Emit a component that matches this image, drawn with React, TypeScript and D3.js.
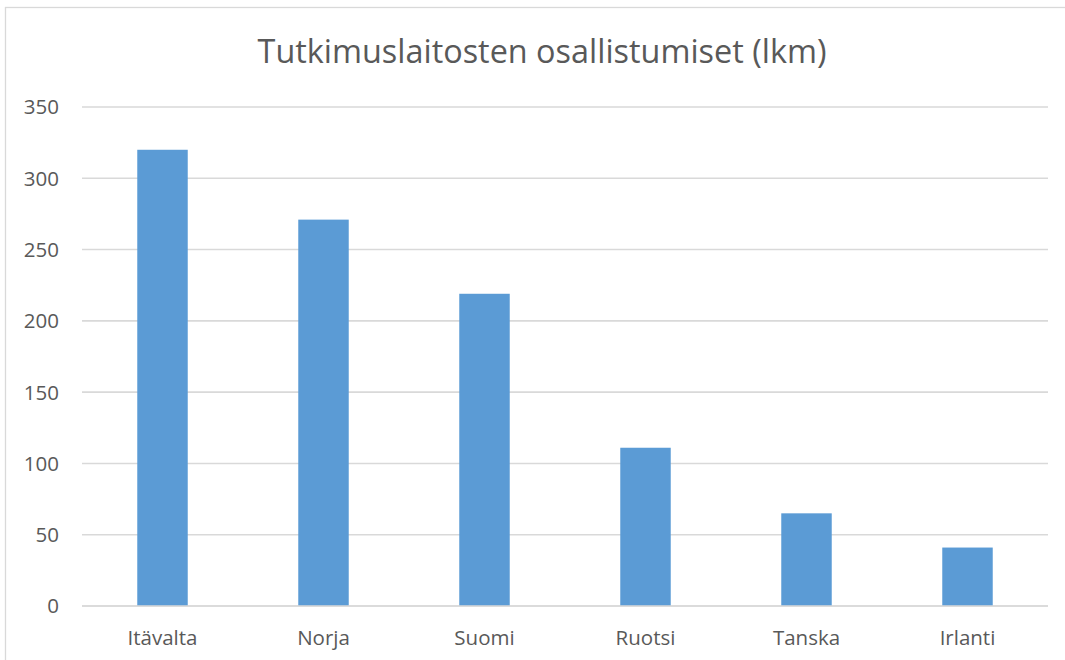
import React from "react";
import * as d3 from "d3";

const categories = ["Itävalta", "Norja", "Suomi", "Ruotsi", "Tanska", "Irlanti"];
const values = [320, 271, 219, 111, 65, 41];
const yTicks = [0, 50, 100, 150, 200, 250, 300, 350];
const title = "Tutkimuslaitosten osallistumiset (lkm)";

const W = 1065;
const H = 660;
const FONT = "'Open Sans', 'Liberation Sans', sans-serif";
const TEXT = "#595959";
const GRID = "#D9D9D9";
const BAR = "#5B9BD5";

export default function App() {
  const x = d3.scaleBand<string>().domain(categories).range([82, 1048]).paddingInner(0.6865).paddingOuter(0.34325);
  const y = d3.scaleLinear().domain([0, 350]).range([606, 107]);
  return (
    <svg width={W} height={H} style={{ position: "absolute", left: 0, top: 0, background: "#fff" }}>
      <rect x={5.5} y={7.5} width={W + 10} height={H + 10} fill="#fff" stroke={GRID} strokeWidth={1.3} />
      <text x={542} y={63} textAnchor="middle" fontFamily={FONT} fontSize={32.4} fill={TEXT}>
        {title}
      </text>
      {yTicks.map((t) => (
        <g key={t}>
          <line x1={82} x2={1048} y1={y(t)} y2={y(t)} stroke={GRID} strokeWidth={1.6} />
          <text x={59} y={y(t)} dy="0.36em" textAnchor="end" fontFamily={FONT} fontSize={20.5} fill={TEXT}>
            {t}
          </text>
        </g>
      ))}
      {categories.map((c, i) => (
        <rect key={c} x={x(c)} y={y(values[i])} width={x.bandwidth()} height={y(0) - y(values[i])} fill={BAR} />
      ))}
      <line x1={82} x2={1048} y1={y(0)} y2={y(0)} stroke={GRID} strokeWidth={1.6} />
      {categories.map((c) => (
        <text key={c} x={(x(c) as number) + x.bandwidth() / 2} y={645} textAnchor="middle" fontFamily={FONT} fontSize={20.5} fill={TEXT}>
          {c}
        </text>
      ))}
    </svg>
  );
}
